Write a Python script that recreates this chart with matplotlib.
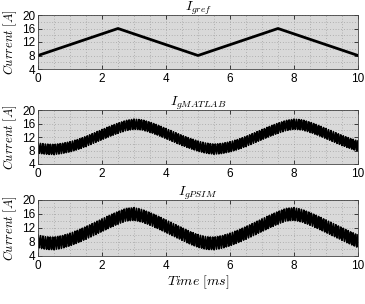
import numpy as np
import matplotlib
matplotlib.use("Agg")
import matplotlib.pyplot as plt
from matplotlib.ticker import MultipleLocator

# ---- data ----
t_ref = [0.0, 2.5, 5.0, 7.5, 10.0]
i_ref = [8.0, 16.0, 8.0, 16.0, 8.0]

t_s = [0.0, 0.25, 0.5, 0.75, 1.0, 1.25, 1.5, 1.75, 2.0, 2.25, 2.5, 2.75,
       3.0, 3.25, 3.5, 3.75, 4.0, 4.25, 4.5, 4.75, 5.0, 5.25, 5.5, 5.75,
       6.0, 6.25, 6.5, 6.75, 7.0, 7.25, 7.5, 7.75, 8.0, 8.25, 8.5, 8.75,
       9.0, 9.25, 9.5, 9.75, 10.0]
i_matlab = [8.7, 8.4, 8.3, 8.6, 9.1, 9.8, 10.7, 11.7, 12.7, 13.7, 14.6, 15.4,
            15.8, 15.6, 14.9, 14.0, 13.0, 12.0, 11.0, 10.1, 9.3, 8.7, 8.4, 8.6,
            9.1, 9.8, 10.7, 11.7, 12.7, 13.7, 14.6, 15.4, 15.8, 15.6, 14.9, 14.0,
            13.0, 12.0, 11.0, 10.1, 9.3]
i_psim = [8.2, 7.7, 7.6, 8.0, 8.7, 9.6, 10.6, 11.7, 12.8, 13.9, 14.9, 15.8,
          16.0, 15.5, 14.6, 13.6, 12.5, 11.4, 10.3, 9.2, 8.3, 7.7, 7.6, 8.0,
          8.7, 9.6, 10.6, 11.7, 12.8, 13.9, 14.9, 15.8, 16.0, 15.5, 14.6, 13.6,
          12.5, 11.4, 10.3, 9.2, 8.2]
ripple_matlab = 1.5   # A, peak
ripple_psim = 1.8     # A, peak
f_sw = 13.0           # switching periods per ms

titles = [r'$I_{gref}$', r'$I_{gMATLAB}$', r'$I_{gPSIM}$']
ylabel = r'$Current\ [A]$'
xlabel = r'$Time\ [ms]$'
yticks = [4, 8, 12, 16, 20]
xticks = [0, 2, 4, 6, 8, 10]

plt.rcParams['mathtext.fontset'] = 'cm'
plt.rcParams['font.family'] = ['Liberation Sans', 'DejaVu Sans']

def rippled(center, amp):
    t = np.linspace(0, 10, 8001)
    c = np.interp(t, t_s, center)
    saw = 2 * np.abs(((t * f_sw) % 1.0) - 0.5) * 2 - 1  # triangle -1..1
    return t, c + amp * saw

fig = plt.figure(figsize=(3.65, 3.04), dpi=100)
W, H = 365, 304
left, right = 38, 358
boxes = [(15, 69), (110, 164), (200, 256)]
axes = []
for (top, bot) in boxes:
    ax = fig.add_axes([left / W, (H - bot) / H, (right - left) / W, (bot - top) / H])
    axes.append(ax)

t1, y1 = rippled(i_matlab, ripple_matlab)
t2, y2 = rippled(i_psim, ripple_psim)
series = [(t_ref, i_ref, 2.0), (t1, y1, 1.3), (t2, y2, 1.3)]

for ax, (tt, yy, lw), ttl in zip(axes, series, titles):
    ax.set_facecolor('#d9d9d9')
    ax.plot(tt, yy, color='black', lw=lw)
    ax.set_xlim(0, 10)
    ax.set_ylim(4, 20)
    ax.set_xticks(xticks)
    ax.set_yticks(yticks)
    ax.xaxis.set_minor_locator(MultipleLocator(0.5))
    ax.yaxis.set_minor_locator(MultipleLocator(2))
    ax.grid(which='both', color='#8a8a8a', linestyle=(0, (1, 3)), linewidth=0.5)
    ax.set_axisbelow(True)
    ax.tick_params(which='major', direction='in', length=3, width=0.5, labelsize=8.5,
                   top=True, right=True)
    ax.tick_params(axis='x', pad=3)
    ax.tick_params(axis='y', pad=2)
    ax.tick_params(which='minor', length=0)
    for s in ax.spines.values():
        s.set_linewidth(0.6)
        s.set_color('#444444')
    ax.set_title(ttl, fontsize=10, pad=3)
    ax.set_ylabel(ylabel, fontsize=9, labelpad=2)

axes[2].set_xlabel(xlabel, fontsize=10, labelpad=1)

fig.savefig('out.png', dpi=100, facecolor='white')
